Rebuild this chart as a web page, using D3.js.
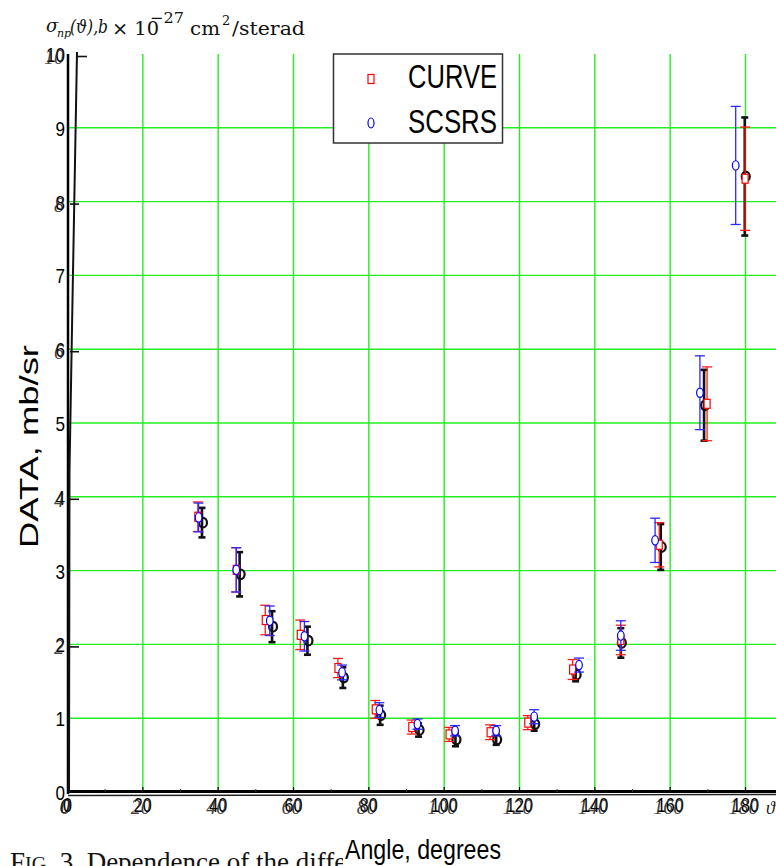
<!DOCTYPE html>
<html>
<head>
<meta charset="utf-8">
<script src="https://cdn.jsdelivr.net/npm/d3@7"></script>
<style>
  html, body { margin: 0; padding: 0; background: #fff; }
  svg { display: block; }
</style>
</head>
<body>
<svg id="chart" width="776" height="866"></svg>
<script>
// ---------------- data ----------------
const angleTicks = [0, 20, 40, 60, 80, 100, 120, 140, 160, 180];
const valueTicks = [0, 1, 2, 3, 4, 5, 6, 7, 8, 9, 10];
const scanTicks = [2, 4, 6, 8, 10];

const seriesNames = ["CURVE", "SCSRS"];

// CURVE (red squares)
const curveAngle = [34.6, 44.8, 52.5, 61.8, 71.8, 81.7, 91.4, 101.3, 112.2, 122.2, 134.1, 146.9, 157.1, 169.8, 179.9];
const curveValue = [3.73, 3.01, 2.33, 2.13, 1.68, 1.12, 0.88, 0.78, 0.81, 0.94, 1.66, 2.06, 3.35, 5.26, 8.31];
const curveErr   = [0.20, 0.30, 0.20, 0.20, 0.13, 0.12, 0.095, 0.095, 0.10, 0.095, 0.135, 0.20, 0.30, 0.50, 0.70];

// SCSRS (blue circles)
const scsrsAngle = [34.8, 44.8, 53.7, 62.9, 72.9, 82.8, 92.9, 102.9, 113.8, 123.9, 135.8, 146.9, 156.0, 167.9, 177.4];
const scsrsValue = [3.72, 3.01, 2.32, 2.11, 1.62, 1.11, 0.92, 0.83, 0.83, 1.02, 1.72, 2.12, 3.41, 5.41, 8.49];
const scsrsErr   = [0.195, 0.30, 0.20, 0.20, 0.10, 0.10, 0.07, 0.07, 0.07, 0.095, 0.095, 0.20, 0.30, 0.50, 0.80];

// scanned experimental points (black, from the underlying figure)
const scanAngle = [35.7, 45.7, 54.3, 63.7, 73.1, 83.0, 93.2, 103.0, 113.8, 123.9, 134.9, 146.9, 157.5, 169.0, 179.8];
const scanValue = [3.65, 2.95, 2.24, 2.05, 1.55, 1.04, 0.84, 0.71, 0.71, 0.92, 1.59, 2.02, 3.32, 5.24, 8.34];
const scanErr   = [0.20, 0.30, 0.21, 0.19, 0.14, 0.13, 0.09, 0.09, 0.07, 0.09, 0.09, 0.20, 0.31, 0.48, 0.80];

// ---------------- setup ----------------
const svg = d3.select("#chart");
const W = 776, H = 866;
const x = d3.scaleLinear().domain([0, 180]).range([67.5, 745.5]);
const y = d3.scaleLinear().domain([0, 10]).range([792, 54]);
const plotLeft = 68, plotRight = 776, plotTop = y(10), plotBottom = y(0);

const SANS = "'Liberation Sans Narrow', 'Liberation Sans', Arial, sans-serif";
const SERIF = "'Liberation Serif', 'DejaVu Serif', serif";
const HSERIF = "'DejaVu Serif', 'Liberation Serif', serif";
const GREEN = "#22ee22";

svg.append("rect").attr("width", W).attr("height", H).attr("fill", "#fff");

// ---------------- grid ----------------
const grid = svg.append("g");
grid.selectAll("line.h").data(valueTicks.filter(v => v > 0 && v < 10)).join("line")
  .attr("x1", plotLeft).attr("x2", plotRight)
  .attr("y1", d => y(d)).attr("y2", d => y(d))
  .attr("stroke", GREEN).attr("stroke-width", 1.4);
grid.selectAll("line.v").data(angleTicks.filter(v => v > 0)).join("line")
  .attr("x1", d => x(d)).attr("x2", d => x(d))
  .attr("y1", plotTop).attr("y2", plotBottom)
  .attr("stroke", GREEN).attr("stroke-width", 1.4);

// ---------------- scanned header text ----------------
const hdr = svg.append("g").attr("fill", "#111").attr("font-family", HSERIF);
hdr.append("text").attr("x", 46).attr("y", 32).attr("font-size", 18).attr("font-style", "italic").text("σ");
hdr.append("text").attr("x", 57).attr("y", 37).attr("font-size", 11).attr("font-style", "italic").text("np");
hdr.append("text").attr("x", 70).attr("y", 33).attr("font-size", 18).attr("font-style", "italic")
  .attr("textLength", 38).attr("lengthAdjust", "spacingAndGlyphs").text("(ϑ),b");
hdr.append("text").attr("x", 112).attr("y", 35).attr("font-size", 18)
  .attr("textLength", 47).attr("lengthAdjust", "spacingAndGlyphs").text("× 10");
hdr.append("text").attr("x", 150).attr("y", 23).attr("font-size", 15)
  .attr("textLength", 34).attr("lengthAdjust", "spacingAndGlyphs").text("−27");
hdr.append("text").attr("x", 190).attr("y", 35).attr("font-size", 18)
  .attr("textLength", 30).attr("lengthAdjust", "spacingAndGlyphs").text("cm");
hdr.append("text").attr("x", 222).attr("y", 25).attr("font-size", 13).text("2");
hdr.append("text").attr("x", 232).attr("y", 35).attr("font-size", 18)
  .attr("textLength", 73).attr("lengthAdjust", "spacingAndGlyphs").text("/sterad");

// ---------------- axes ----------------
const ax = svg.append("g");
// MATLAB axis lines
ax.append("line").attr("x1", plotLeft).attr("x2", plotLeft).attr("y1", plotTop).attr("y2", plotBottom + 2)
  .attr("stroke", "#000").attr("stroke-width", 2.5);
ax.append("line").attr("x1", plotLeft).attr("x2", plotRight).attr("y1", plotBottom - 0.5).attr("y2", plotBottom - 0.5)
  .attr("stroke", "#000").attr("stroke-width", 3);
// scanned axis lines
ax.append("path").attr("d", `M77,${plotTop - 2} L72.5,300 L69.5,470 L69,${plotBottom}`)
  .attr("fill", "none").attr("stroke", "#111").attr("stroke-width", 2);
ax.append("line").attr("x1", plotLeft).attr("x2", plotRight).attr("y1", plotBottom + 3.5).attr("y2", plotBottom + 2.5)
  .attr("stroke", "#222").attr("stroke-width", 1.4);
// scanned ticks
ax.selectAll("line.st").data(scanTicks).join("line")
  .attr("x1", d => d === 10 ? 76 : 70).attr("x2", d => d === 10 ? 87 : 79)
  .attr("y1", d => y(d) + 2.5).attr("y2", d => y(d) + 2.5)
  .attr("stroke", "#111").attr("stroke-width", 1.6);
// x ticks (inward)
ax.selectAll("line.xt").data(angleTicks.filter(v => v > 0)).join("line")
  .attr("x1", d => x(d)).attr("x2", d => x(d))
  .attr("y1", plotBottom).attr("y2", plotBottom - 5)
  .attr("stroke", "#000").attr("stroke-width", 1.2);
ax.selectAll("line.xmt").data(angleTicks.map(d => d + 10)).join("line")
  .attr("x1", d => x(d)).attr("x2", d => x(d))
  .attr("y1", plotBottom).attr("y2", plotBottom - 3)
  .attr("stroke", "#333").attr("stroke-width", 1);

// y tick labels (MATLAB)
ax.selectAll("text.yl").data(valueTicks).join("text")
  .attr("x", 65).attr("y", d => y(d) + 8)
  .attr("text-anchor", "end").attr("font-family", SANS).attr("font-size", 21)
  .attr("textLength", d => String(d).length * 9.5).attr("lengthAdjust", "spacingAndGlyphs")
  .attr("fill", "#000").text(d => d);
// y tick labels (scanned, italic)
ax.selectAll("text.ys").data(scanTicks).join("text")
  .attr("x", 64).attr("y", d => y(d) + 10)
  .attr("text-anchor", "end").attr("font-family", SERIF).attr("font-style", "italic").attr("font-size", 20)
  .attr("fill", "#222").attr("fill-opacity", 0.85).text(d => d);
ax.append("text").attr("x", 70).attr("y", plotBottom + 21).attr("text-anchor", "end")
  .attr("font-family", SERIF).attr("font-style", "italic").attr("font-size", 21).attr("fill", "#222").text("0");

// x tick labels (MATLAB)
ax.selectAll("text.xl").data(angleTicks).join("text")
  .attr("x", d => x(d)).attr("y", plotBottom + 20)
  .attr("text-anchor", "middle").attr("font-family", SANS).attr("font-size", 21)
  .attr("textLength", d => String(d).length * 9).attr("lengthAdjust", "spacingAndGlyphs")
  .attr("fill", "#000").text(d => d);
// x tick labels (scanned, italic)
ax.selectAll("text.xs").data(angleTicks).join("text")
  .attr("x", d => x(d) - 2).attr("y", plotBottom + 22)
  .attr("text-anchor", "middle").attr("font-family", SERIF).attr("font-style", "italic").attr("font-size", 20)
  .attr("fill", "#222").attr("fill-opacity", 0.85).text(d => d);
ax.append("text").attr("x", 766).attr("y", plotBottom + 22)
  .attr("font-family", SERIF).attr("font-style", "italic").attr("font-size", 18).attr("fill", "#222").text("ϑ");

// ---------------- caption (scanned) + x label ----------------
svg.append("text").attr("x", 10).attr("y", 871).attr("font-family", SERIF).attr("font-size", 27).attr("fill", "#111")
  .html('F<tspan font-size="20">IG</tspan>. 3. Dependence of the differential cross section');
svg.append("rect").attr("x", 343).attr("y", 832).attr("width", W - 343).attr("height", 40).attr("fill", "#fff");
svg.append("text").attr("x", 345).attr("y", 859).attr("font-family", SANS).attr("font-size", 27)
  .attr("textLength", 156).attr("lengthAdjust", "spacingAndGlyphs").attr("fill", "#000").text("Angle, degrees");

// y label
svg.append("text").attr("transform", "translate(38,548) rotate(-90)")
  .attr("font-family", SANS).attr("font-size", 25)
  .attr("textLength", 203).attr("lengthAdjust", "spacingAndGlyphs").attr("fill", "#000").text("DATA, mb/sr");

// ---------------- data marks ----------------
function errorBars(g, xs, vs, es, color, width, cap) {
  const d = xs.map((a, i) => ({ a, v: vs[i], e: es[i] }));
  g.selectAll("line.eb").data(d).join("line")
    .attr("x1", p => x(p.a)).attr("x2", p => x(p.a))
    .attr("y1", p => y(p.v + p.e)).attr("y2", p => y(p.v - p.e))
    .attr("stroke", color).attr("stroke-width", width);
  g.selectAll("line.ct").data(d).join("line").attr("class", "ct")
    .attr("x1", p => x(p.a) - cap / 2).attr("x2", p => x(p.a) + cap / 2)
    .attr("y1", p => y(p.v + p.e)).attr("y2", p => y(p.v + p.e))
    .attr("stroke", color).attr("stroke-width", width);
  g.selectAll("line.cb").data(d).join("line").attr("class", "cb")
    .attr("x1", p => x(p.a) - cap / 2).attr("x2", p => x(p.a) + cap / 2)
    .attr("y1", p => y(p.v - p.e)).attr("y2", p => y(p.v - p.e))
    .attr("stroke", color).attr("stroke-width", width);
  return d;
}

// scanned black points
const gScan = svg.append("g");
const scanData = errorBars(gScan.append("g"), scanAngle, scanValue, scanErr, "#111", 2.6, 7);
gScan.append("g").selectAll("ellipse").data(scanData).join("ellipse")
  .attr("cx", p => x(p.a) + 1).attr("cy", p => y(p.v)).attr("rx", 4).attr("ry", 4.8)
  .attr("fill", "none").attr("stroke", "#111").attr("stroke-width", 2.2);

// CURVE (red)
const gCurve = svg.append("g");
const curveData = errorBars(gCurve.append("g"), curveAngle, curveValue, curveErr, "#ff1a1a", 1.3, 10);
gCurve.append("g").selectAll("rect").data(curveData).join("rect")
  .attr("x", p => x(p.a) - 3).attr("y", p => y(p.v) - 4.5).attr("width", 6).attr("height", 9)
  .attr("fill", "#fff").attr("stroke", "#ff0000").attr("stroke-width", 1.2);

// SCSRS (blue)
const gScs = svg.append("g");
const scsData = errorBars(gScs.append("g"), scsrsAngle, scsrsValue, scsrsErr, "#2a2aff", 1.3, 10);
gScs.append("g").selectAll("ellipse").data(scsData).join("ellipse")
  .attr("cx", p => x(p.a)).attr("cy", p => y(p.v)).attr("rx", 3.3).attr("ry", 4.7)
  .attr("fill", "#fff").attr("stroke", "#0000ff").attr("stroke-width", 1.2);

// ---------------- legend ----------------
const lg = svg.append("g");
lg.append("rect").attr("x", 333.5).attr("y", 54).attr("width", 169).attr("height", 89)
  .attr("fill", "#fff").attr("stroke", "#333").attr("stroke-width", 1.5);
lg.append("rect").attr("x", 368).attr("y", 74.5).attr("width", 6).attr("height", 9)
  .attr("fill", "#fff").attr("stroke", "#ff0000").attr("stroke-width", 1.2);
lg.append("ellipse").attr("cx", 371).attr("cy", 123).attr("rx", 3).attr("ry", 5)
  .attr("fill", "#fff").attr("stroke", "#0000ff").attr("stroke-width", 1.2);
lg.selectAll("text").data(seriesNames).join("text")
  .attr("x", 408).attr("y", (d, i) => 88 + i * 45)
  .attr("font-family", SANS).attr("font-size", 33)
  .attr("textLength", 89).attr("lengthAdjust", "spacingAndGlyphs").attr("fill", "#000").text(d => d);
</script>
</body>
</html>
